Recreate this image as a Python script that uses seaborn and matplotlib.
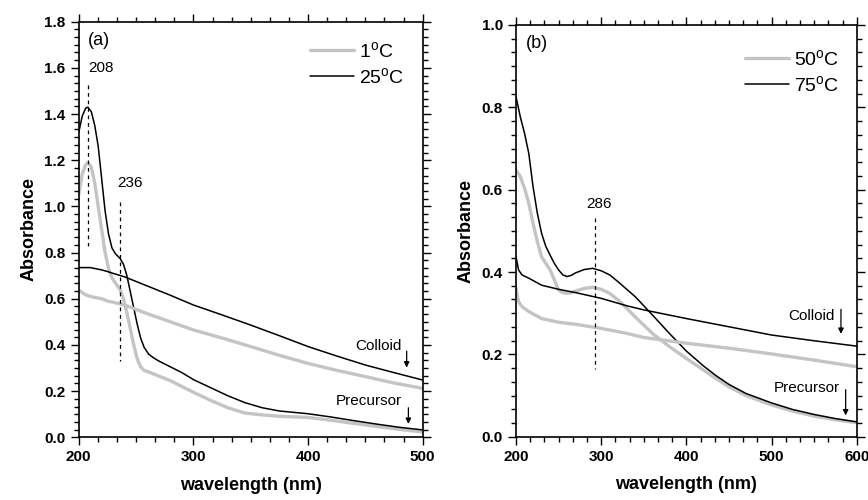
import matplotlib
matplotlib.use("Agg")
import matplotlib.pyplot as plt
from matplotlib.ticker import AutoMinorLocator, MultipleLocator, FormatStrFormatter
import seaborn as sns

# ── data ─────────────────────────────────────────────────────────────────────

# panel (a): precursor curves
a_prec_nm = [200, 203, 206, 208, 211, 214, 217, 220, 223, 226, 229, 232, 236,
             239, 242, 245, 248, 251, 254, 257, 261, 265, 270, 280, 290, 300,
             315, 330, 345, 360, 375, 400, 420, 440, 460, 480, 500]
a_prec_25 = [1.32, 1.39, 1.425, 1.43, 1.41, 1.35, 1.26, 1.12, 0.98, 0.88, 0.82,
             0.795, 0.775, 0.75, 0.70, 0.63, 0.56, 0.49, 0.43, 0.39, 0.36, 0.345,
             0.33, 0.305, 0.28, 0.25, 0.215, 0.18, 0.15, 0.128, 0.114, 0.102,
             0.088, 0.072, 0.057, 0.043, 0.032]
a_prec_1 = [1.05, 1.14, 1.18, 1.19, 1.17, 1.10, 1.00, 0.90, 0.80, 0.73, 0.69,
            0.668, 0.64, 0.60, 0.54, 0.47, 0.40, 0.34, 0.305, 0.29, 0.283, 0.275,
            0.265, 0.245, 0.22, 0.195, 0.16, 0.128, 0.105, 0.097, 0.091, 0.086,
            0.074, 0.060, 0.047, 0.034, 0.023]

# panel (a): colloid curves
a_coll_nm = [200, 205, 210, 215, 220, 225, 230, 240, 260, 280, 300, 325, 350,
             375, 400, 425, 450, 475, 500]
a_coll_25 = [0.735, 0.735, 0.735, 0.73, 0.725, 0.718, 0.71, 0.695, 0.655, 0.615,
             0.573, 0.53, 0.486, 0.44, 0.393, 0.352, 0.313, 0.28, 0.248]
a_coll_1 = [0.638, 0.62, 0.61, 0.605, 0.6, 0.59, 0.585, 0.573, 0.535, 0.50,
            0.465, 0.43, 0.393, 0.355, 0.32, 0.29, 0.263, 0.235, 0.212]

# panel (b): precursor curves
b_prec_nm = [200, 205, 210, 215, 220, 225, 230, 235, 240, 245, 250, 255, 260,
             265, 270, 280, 290, 300, 310, 320, 340, 360, 380, 400, 420, 435,
             450, 470, 500, 525, 550, 575, 600]
b_prec_75 = [0.826, 0.777, 0.737, 0.688, 0.607, 0.543, 0.494, 0.462, 0.441,
             0.421, 0.405, 0.393, 0.389, 0.392, 0.398, 0.406, 0.409, 0.403,
             0.393, 0.376, 0.340, 0.296, 0.251, 0.208, 0.172, 0.148, 0.127,
             0.105, 0.082, 0.066, 0.054, 0.044, 0.036]
b_prec_50 = [0.648, 0.632, 0.603, 0.567, 0.518, 0.474, 0.437, 0.421, 0.405,
             0.381, 0.356, 0.350, 0.348, 0.350, 0.354, 0.360, 0.363, 0.358,
             0.348, 0.332, 0.291, 0.251, 0.219, 0.190, 0.162, 0.141, 0.121,
             0.100, 0.077, 0.062, 0.050, 0.041, 0.034]

# panel (b): colloid curves
b_coll_nm = [200, 203, 207, 215, 230, 250, 270, 300, 330, 350, 400, 450, 500,
             550, 600]
b_coll_75 = [0.437, 0.405, 0.393, 0.385, 0.368, 0.358, 0.350, 0.336, 0.318,
             0.308, 0.287, 0.267, 0.247, 0.233, 0.220]
b_coll_50 = [0.360, 0.328, 0.316, 0.304, 0.287, 0.278, 0.273, 0.263, 0.251,
             0.241, 0.227, 0.215, 0.201, 0.186, 0.170]

# peak markers: (position, line top, line bottom, label)
a_peaks = [(208, 1.525, 0.83, "208"), (236, 1.02, 0.33, "236")]
b_peaks = [(293, 0.53, 0.165, "286")]

GREY = "#c4c4c4"

# ── styling ──────────────────────────────────────────────────────────────────

sns.set_theme(style="ticks")
plt.rcParams["font.family"] = ["Liberation Sans", "DejaVu Sans"]
plt.rcParams["mathtext.default"] = "regular"
plt.rcParams["text.color"] = "black"
plt.rcParams["axes.labelcolor"] = "black"


def style_axes(ax, xmax, ymax):
    ax.set_xlim(200, xmax)
    ax.set_ylim(0, ymax)
    ax.xaxis.set_major_locator(MultipleLocator(100))
    ax.yaxis.set_major_locator(MultipleLocator(0.2))
    ax.xaxis.set_minor_locator(AutoMinorLocator(6))
    ax.yaxis.set_minor_locator(AutoMinorLocator(6))
    ax.yaxis.set_major_formatter(FormatStrFormatter("%.1f"))
    ax.tick_params(which="both", direction="out", top=True, right=True,
                   width=1, colors="black")
    ax.tick_params(which="major", length=6, labelsize=11)
    ax.tick_params(which="minor", length=3.5)
    for lab in ax.get_xticklabels() + ax.get_yticklabels():
        lab.set_fontweight("bold")
    for sp in ax.spines.values():
        sp.set_visible(True)
        sp.set_linewidth(1.2)
        sp.set_color("black")
    ax.set_xlabel("wavelength (nm)", fontsize=13, fontweight="bold", labelpad=9)
    ax.set_ylabel("Absorbance", fontsize=13, fontweight="bold", labelpad=5)


def draw_panel(ax, prec_nm, prec_hi, prec_lo, coll_nm, coll_hi, coll_lo,
               lo_label, hi_label):
    sns.lineplot(x=prec_nm, y=prec_lo, ax=ax, color=GREY, linewidth=2.4,
                 label=lo_label)
    sns.lineplot(x=prec_nm, y=prec_hi, ax=ax, color="black", linewidth=1.1,
                 label=hi_label)
    sns.lineplot(x=coll_nm, y=coll_lo, ax=ax, color=GREY, linewidth=2.4,
                 legend=False)
    sns.lineplot(x=coll_nm, y=coll_hi, ax=ax, color="black", linewidth=1.1,
                 legend=False)


def down_arrow(ax, x, y_from, y_to):
    ax.annotate("", xy=(x, y_to), xytext=(x, y_from),
                arrowprops=dict(arrowstyle="-|>", color="black", lw=0.9,
                                mutation_scale=8))


fig = plt.figure(figsize=(8.68, 5), dpi=100)
ax_a = fig.add_axes([0.0907, 0.1254, 0.3963, 0.8312])
ax_b = fig.add_axes([0.5945, 0.1266, 0.3925, 0.8234])

# ── panel (a) ────────────────────────────────────────────────────────────────
draw_panel(ax_a, a_prec_nm, a_prec_25, a_prec_1, a_coll_nm, a_coll_25,
           a_coll_1, "1$^o$C", "25$^o$C")
style_axes(ax_a, 500, 1.8)
for x0, y0, y1, txt in a_peaks:
    ax_a.plot([x0, x0], [y0, y1], color="black", linestyle=(0, (3, 3)),
              linewidth=0.9)
ax_a.text(208, 1.6, "208", fontsize=11, va="center")
ax_a.text(233.5, 1.1, "236", fontsize=11, va="center")
ax_a.text(208, 1.72, "(a)", fontsize=13, va="center")
ax_a.text(482, 0.395, "Colloid", fontsize=11, ha="right", va="center")
down_arrow(ax_a, 486, 0.385, 0.29)
ax_a.text(482, 0.158, "Precursor", fontsize=11, ha="right", va="center")
down_arrow(ax_a, 487.5, 0.14, 0.046)
ax_a.legend(loc="upper left", bbox_to_anchor=(0.62, 0.995), frameon=False,
            fontsize=14, handlelength=2.3, handletextpad=0.25, labelspacing=0.3)

# ── panel (b) ────────────────────────────────────────────────────────────────
draw_panel(ax_b, b_prec_nm, b_prec_75, b_prec_50, b_coll_nm, b_coll_75,
           b_coll_50, "50$^o$C", "75$^o$C")
style_axes(ax_b, 600, 1.0)
for x0, y0, y1, txt in b_peaks:
    ax_b.plot([x0, x0], [y0, y1], color="black", linestyle=(0, (3, 3)),
              linewidth=0.9)
    ax_b.text(x0 + 5, y0 + 0.035, txt, fontsize=11, ha="center", va="center")
ax_b.text(212, 0.955, "(b)", fontsize=13, va="center")
ax_b.text(574, 0.293, "Colloid", fontsize=11, ha="right", va="center")
down_arrow(ax_b, 581.5, 0.316, 0.243)
ax_b.text(580, 0.118, "Precursor", fontsize=11, ha="right", va="center")
down_arrow(ax_b, 587, 0.121, 0.045)
ax_b.legend(loc="upper left", bbox_to_anchor=(0.62, 0.985), frameon=False,
            fontsize=14, handlelength=2.3, handletextpad=0.25, labelspacing=0.3)

fig.savefig("out.png", dpi=100)
